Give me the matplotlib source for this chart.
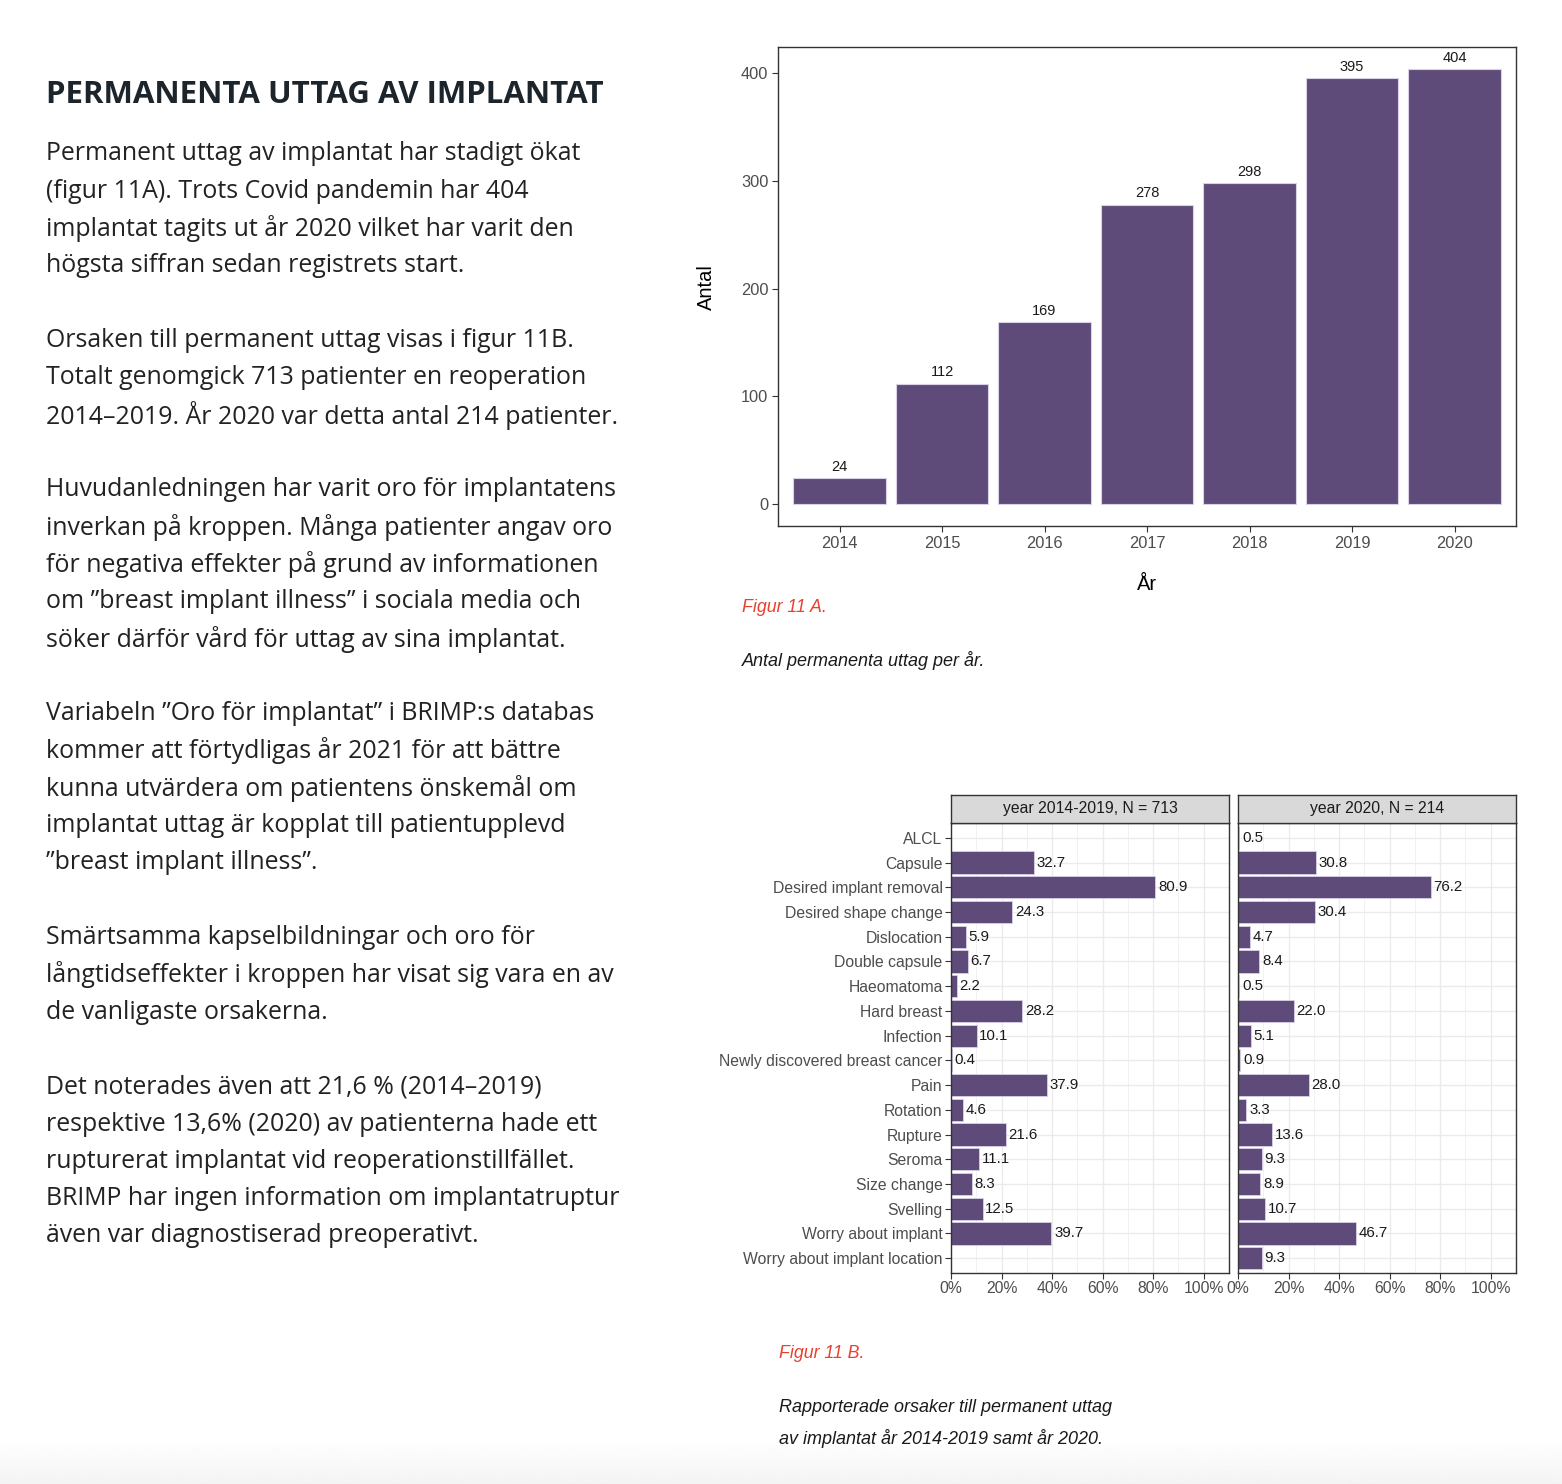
import matplotlib.pyplot as plt
import numpy as np

# data
years = ['2014', '2015', '2016', '2017', '2018', '2019', '2020']
counts = [24, 112, 169, 278, 298, 395, 404]

causes = ['ALCL', 'Capsule', 'Desired implant removal', 'Desired shape change',
          'Dislocation', 'Double capsule', 'Haeomatoma', 'Hard breast', 'Infection',
          'Newly discovered breast cancer', 'Pain', 'Rotation', 'Rupture', 'Seroma',
          'Size change', 'Svelling', 'Worry about implant', 'Worry about implant location']
pct_2014_2019 = [np.nan, 32.7, 80.9, 24.3, 5.9, 6.7, 2.2, 28.2, 10.1, 0.4, 37.9, 4.6,
                 21.6, 11.1, 8.3, 12.5, 39.7, np.nan]
pct_2020 = [0.5, 30.8, 76.2, 30.4, 4.7, 8.4, 0.5, 22.0, 5.1, 0.9, 28.0, 3.3,
            13.6, 9.3, 8.9, 10.7, 46.7, 9.3]
facet_titles = ['year 2014-2019, N = 713', 'year 2020, N = 214']

heading = 'PERMANENTA UTTAG AV IMPLANTAT'
body_lines = [
    'Permanent uttag av implantat har stadigt ökat',
    '(figur 11A). Trots Covid pandemin har 404',
    'implantat tagits ut år 2020 vilket har varit den',
    'högsta siffran sedan registrets start.',
    '',
    'Orsaken till permanent uttag visas i figur 11B.',
    'Totalt genomgick 713 patienter en reoperation',
    '2014–2019. År 2020 var detta antal 214 patienter.',
    '',
    'Huvudanledningen har varit oro för implantatens',
    'inverkan på kroppen. Många patienter angav oro',
    'för negativa effekter på grund av informationen',
    'om ”breast implant illness” i sociala media och',
    'söker därför vård för uttag av sina implantat.',
    '',
    'Variabeln ”Oro för implantat” i BRIMP:s databas',
    'kommer att förtydligas år 2021 för att bättre',
    'kunna utvärdera om patientens önskemål om',
    'implantat uttag är kopplat till patientupplevd',
    '”breast implant illness”.',
    '',
    'Smärtsamma kapselbildningar och oro för',
    'långtidseffekter i kroppen har visat sig vara en av',
    'de vanligaste orsakerna.',
    '',
    'Det noterades även att 21,6 % (2014–2019)',
    'respektive 13,6% (2020) av patienterna hade ett',
    'rupturerat implantat vid reoperationstillfället.',
    'BRIMP har ingen information om implantatruptur',
    'även var diagnostiserad preoperativt.',
]

PURPLE = '#5F4B7A'
EDGE = '#D9D1E6'
GREY_TXT = '#4D4D4D'
RED = '#E8412F'
W, H = 1562, 1484

plt.rcParams['font.family'] = ['Liberation Sans', 'DejaVu Sans']


def box(l, t, r, b):
    return [l / W, 1 - b / H, (r - l) / W, (b - t) / H]


def ftext(x, y, s, **kw):
    return fig.text(x / W, 1 - y / H, s, **kw)


fig = plt.figure(figsize=(W / 100, H / 100), dpi=100)
fig.patch.set_facecolor('white')

# faint grey fade at the bottom of the page
bg = fig.add_axes(box(0, 1440, W, H), zorder=-5)
grad = np.linspace(1.0, 0.955, 50)[:, None] * np.ones((1, 2))
bg.imshow(grad, cmap='gray', vmin=0, vmax=1, aspect='auto',
          extent=(0, 1, 0, 1), origin='upper')
bg.axis('off')

# left column text
ftext(46, 95, heading, family=['Open Sans', 'DejaVu Sans'], weight='bold',
      fontsize=22.5, color='#1C252C', va='center')
for i, line in enumerate(body_lines):
    if line:
        ftext(46, 154 + i * 37.31, line, family=['Open Sans', 'DejaVu Sans'],
              fontsize=17.9, color='#222222', va='center')

# figure 11A
ax = fig.add_axes(box(778, 47, 1516, 526))
x = np.arange(len(years))
ax.bar(x, counts, width=0.9, color=PURPLE, edgecolor=EDGE, linewidth=0.8)
for xi, c in zip(x, counts):
    ax.annotate(str(c), (xi, c), xytext=(0, 3), textcoords='offset points',
                ha='center', va='bottom', fontsize=10.5, color='#1A1A1A')
ax.set_xlim(-0.6, 6.6)
ax.set_ylim(-20.2, 424.2)
ax.set_xticks(x)
ax.set_xticklabels(years)
ax.set_yticks([0, 100, 200, 300, 400])
ax.tick_params(length=4, color='#333333', labelcolor=GREY_TXT, labelsize=11.8, pad=3)
for s in ax.spines.values():
    s.set_color('#333333')
    s.set_linewidth(1)
ftext(706, 287, 'Antal', rotation=90, fontsize=14.5, ha='center', va='center')
ftext(1147, 585, 'År', fontsize=14.5, ha='center', va='center')

cap_font = ['Liberation Sans', 'DejaVu Sans']
ftext(742, 608, 'Figur 11 A.', family=cap_font, style='italic', fontsize=12.8,
      color=RED, va='center')
ftext(742, 661, 'Antal permanenta uttag per år.', family=cap_font, style='italic',
      fontsize=13, color='#1A1A1A', va='center')

# figure 11B
panels = [(951, 1229, pct_2014_2019), (1238, 1516, pct_2020)]
yy = np.arange(len(causes))
for k, (l, r, vals) in enumerate(panels):
    a = fig.add_axes(box(l, 823, r, 1273))
    a.set_axisbelow(True)
    for yi, v in zip(yy, vals):
        if np.isnan(v):
            continue
        a.barh(yi, v, height=0.9, color=PURPLE, edgecolor=EDGE, linewidth=0.6)
        a.annotate(f'{v:.1f}', (v, yi), xytext=(2, 0), textcoords='offset points',
                   va='center', ha='left', fontsize=10.8, color='#1A1A1A')
    a.set_xlim(0, 110)
    a.set_ylim(len(causes) - 1 + 0.6, -0.6)
    a.set_xticks([0, 20, 40, 60, 80, 100])
    a.set_xticklabels(['0%', '20%', '40%', '60%', '80%', '100%'])
    a.set_xticks([10, 30, 50, 70, 90], minor=True)
    a.set_yticks(yy)
    a.grid(True, which='major', color='#EBEBEB', linewidth=1)
    a.grid(True, which='minor', axis='x', color='#EBEBEB', linewidth=0.5)
    a.tick_params(which='minor', length=0)
    a.tick_params(which='major', length=4, color='#333333', labelcolor=GREY_TXT,
                  labelsize=11.3, pad=2)
    if k == 0:
        a.set_yticklabels(causes)
    else:
        a.tick_params(axis='y', length=0, labelleft=False)
    for s in a.spines.values():
        s.set_color('#333333')
        s.set_linewidth(1)

    st = fig.add_axes(box(l, 795, r, 823))
    st.set_facecolor('#D9D9D9')
    st.set_xticks([])
    st.set_yticks([])
    for s in st.spines.values():
        s.set_color('#333333')
        s.set_linewidth(1)
    st.text(0.5, 0.5, facet_titles[k], transform=st.transAxes, ha='center',
            va='center', fontsize=11.3, color='#1A1A1A')

ftext(779, 1354, 'Figur 11 B.', family=cap_font, style='italic', fontsize=12.8,
      color=RED, va='center')
ftext(779, 1408, 'Rapporterade orsaker till permanent uttag', family=cap_font,
      style='italic', fontsize=13, color='#1A1A1A', va='center')
ftext(779, 1438, 'av implantat år 2014-2019 samt år 2020.', family=cap_font,
      style='italic', fontsize=13, color='#1A1A1A', va='center')

plt.savefig('out.png', dpi=100)
